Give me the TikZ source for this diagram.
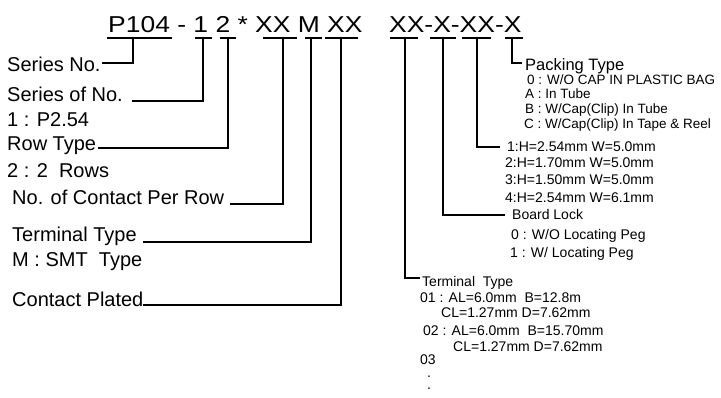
\documentclass[tikz,border=0pt]{standalone}
\usepackage{fontspec}
\setmainfont{Liberation Sans}
\begin{document}
\begin{tikzpicture}[x=1pt,y=-1pt,
  lbl/.style={anchor=base west,inner sep=0pt,font=\fontsize{20}{24}\selectfont},
  code/.style={anchor=base west,inner sep=0pt,font=\fontsize{23}{27}\selectfont},
  pk/.style={anchor=base west,inner sep=0pt,font=\fontsize{13.5}{16}\selectfont},
  sm/.style={anchor=base west,inner sep=0pt,font=\fontsize{14}{17}\selectfont},
  hd/.style={anchor=base west,inner sep=0pt,font=\fontsize{16.5}{19}\selectfont},
  uline/.style={line width=1.5pt},
  conn/.style={line width=1.5pt}]
\useasboundingbox (0,0) rectangle (721,398);
% code
\node[code] (codeL) at (108,33) {\scalebox{1.15}[1]{P104 - 1 2 * XX M XX}};
\node[code] (codeR) at (389,33) {\scalebox{1.15}[1]{XX-X-XX-X}};
% underlines
\draw[uline] (107,38) -- (172,38);
\draw[uline] (195,38) -- (212,38);
\draw[uline] (220,38) -- (236,38);
\draw[uline] (263,38) -- (297,38);
\draw[uline] (305,38) -- (322,38);
\draw[uline] (325,38) -- (358,38);
\draw[uline] (390,38) -- (418,38);
\draw[uline] (430,38) -- (456,38);
\draw[uline] (462,38) -- (491,38);
\draw[uline] (505,38) -- (523,38);
% stub coordinates
\coordinate (sP) at (133,38);
\coordinate (s1) at (203,38);
\coordinate (s2) at (228,38);
\coordinate (sXa) at (283,38);
\coordinate (sM) at (311,38);
\coordinate (sXb) at (341,38);
\coordinate (sRa) at (405,38);
\coordinate (sRb) at (443,38);
\coordinate (sRc) at (477,38);
\coordinate (sRd) at (512,38);
% left labels
\node[lbl] (series) at (7,72) {Series No.};
\node[lbl] (serof) at (7,102) {Series of No.};
\node[lbl] (p254) at (7,127) {1 : P2.54};
\node[lbl] (rowtype) at (7,151) {Row Type};
\node[lbl] (rows) at (7,178) {2 : 2~~Rows};
\node[lbl] (contact) at (12,205) {No. of Contact Per Row};
\node[lbl] (termL) at (12,242) {Terminal Type};
\node[lbl] (smt) at (12,267) {M : SMT~~Type};
\node[lbl] (plated) at (12,307) {Contact Plated};
% left end coordinates
\coordinate (eP) at (102,63);
\coordinate (e1) at (132,101);
\coordinate (e2) at (98,148);
\coordinate (eXa) at (230,204);
\coordinate (eM) at (143,242);
\coordinate (eXb) at (143,305);
\draw[conn] (sP) |- (eP);
\draw[conn] (s1) |- (e1);
\draw[conn] (s2) |- (e2);
\draw[conn] (sXa) |- (eXa);
\draw[conn] (sM) |- (eM);
\draw[conn] (sXb) |- (eXb);
% right labels: packing
\node[hd] (pack) at (525,71) {Packing Type};
\node[pk] (pk0) at (527,85) {0 : W/O CAP IN PLASTIC BAG};
\node[pk] (pkA) at (525,99) {A : In Tube};
\node[pk] (pkB) at (525,114) {B : W/Cap(Clip) In Tube};
\node[pk] (pkC) at (524,129) {C : W/Cap(Clip) In Tape \& Reel};
% dimensions
\node[sm] (h1) at (507,152) {1:H=2.54mm W=5.0mm};
\node[sm] (h2) at (505,168) {2:H=1.70mm W=5.0mm};
\node[sm] (h3) at (505,185) {3:H=1.50mm W=5.0mm};
\node[sm] (h4) at (505,203) {4:H=2.54mm W=6.1mm};
% board lock
\node[sm] (board) at (512,220) {Board Lock};
\node[sm] (bl0) at (511,240) {0 : W/O Locating Peg};
\node[sm] (bl1) at (510,258) {1 : W/ Locating Peg};
% terminal type
\node[sm] (termR) at (422,287) {Terminal~~Type};
\node[sm] (t01) at (420,303) {01 : AL=6.0mm~~B=12.8m};
\node[sm] (t01b) at (441,318) {CL=1.27mm D=7.62mm};
\node[sm] (t02) at (423,336) {02 : AL=6.0mm~~B=15.70mm};
\node[sm] (t02b) at (453,352) {CL=1.27mm D=7.62mm};
\node[sm] (t03) at (420,364) {03};
\node[anchor=base west,inner sep=0pt,align=left,font=\fontsize{14}{12}\selectfont] (dots) at (427,389) {.\\.};
% right end coordinates
\coordinate (eRa) at (420,278);
\coordinate (eRb) at (505,215);
\coordinate (eRc) at (500,147);
\coordinate (eRd) at (522,63);
\draw[conn] (sRa) |- (eRa);
\draw[conn] (sRb) |- (eRb);
\draw[conn] (sRc) |- (eRc);
\draw[conn] (sRd) |- (eRd);
\end{tikzpicture}
\end{document}
